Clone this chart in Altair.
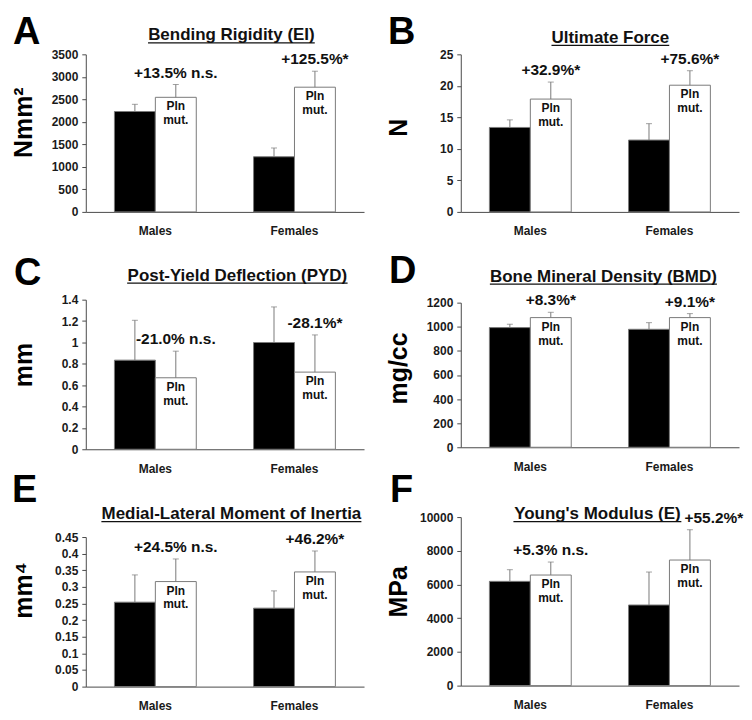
import altair as alt
import pandas as pd

# ---------------- data ----------------
categories = ["Males", "Females"]
groups = ["WT", "Pln mut."]
bar_text = "Pln\nmut."

a_wt = [2230, 1225]
a_wt_sd = [160, 195]
a_mut = [2545, 2770]
a_mut_sd = [285, 355]
a_notes = ["+13.5% n.s.", "+125.5%*"]
a_ticks = [0, 500, 1000, 1500, 2000, 2500, 3000, 3500]

b_wt = [13.4, 11.4]
b_wt_sd = [1.2, 2.6]
b_mut = [17.9, 20.1]
b_mut_sd = [2.7, 2.3]
b_notes = ["+32.9%*", "+75.6%*"]
b_ticks = [0, 5, 10, 15, 20, 25]

c_wt = [0.834, 0.999]
c_wt_sd = [0.373, 0.333]
c_mut = [0.669, 0.722]
c_mut_sd = [0.249, 0.348]
c_notes = ["-21.0% n.s.", "-28.1%*"]
c_ticks = [0, 0.2, 0.4, 0.6, 0.8, 1, 1.2, 1.4]

d_wt = [993, 979]
d_wt_sd = [28, 55]
d_mut = [1076, 1076]
d_mut_sd = [44, 33]
d_notes = ["+8.3%*", "+9.1%*"]
d_ticks = [0, 200, 400, 600, 800, 1000, 1200]

e_wt = [0.254, 0.236]
e_wt_sd = [0.082, 0.052]
e_mut = [0.316, 0.345]
e_mut_sd = [0.068, 0.063]
e_notes = ["+24.5% n.s.", "+46.2%*"]
e_ticks = [0, 0.05, 0.1, 0.15, 0.2, 0.25, 0.3, 0.35, 0.4, 0.45]

f_wt = [6186, 4783]
f_wt_sd = [691, 1956]
f_mut = [6561, 7451]
f_mut_sd = [771, 1798]
f_notes = ["+5.3% n.s.", "+55.2%*"]
f_ticks = [0, 2000, 4000, 6000, 8000, 10000]

# ---------------- style ----------------
FONT = "Liberation Sans"
W = 279
GRAY = "#7a7a7a"
AXIS = "#4a4a4a"
INK = "#111111"
TITLE_SIZE = 17

# Arial/Liberation Sans Bold advance widths (per em) for underline length
CW = {" ": .278, "(": .333, ")": .333, "-": .333, "'": .238, "A": .722, "B": .722,
      "D": .722, "E": .667, "F": .611, "I": .278, "L": .611, "M": .833, "P": .667,
      "R": .722, "U": .722, "Y": .667, "a": .556, "c": .556, "d": .611, "e": .556,
      "f": .333, "g": .611, "h": .611, "i": .278, "l": .278, "m": .889, "n": .611,
      "o": .611, "r": .389, "s": .556, "t": .333, "u": .611, "y": .556}


def text_width(s, size):
    return sum(CW.get(ch, .6) for ch in s) * size


def panel(letter, title, ytitle, wt, wt_sd, mut, mut_sd, notes, ticks, height, off,
          letter_xy, title_xy, ytitle_shift, note_dx=(0, 0)):
    rows = []
    for i, cat in enumerate(categories):
        rows.append(dict(cat=cat, grp=groups[0], value=wt[i], top=wt[i] + wt_sd[i],
                         note="", inner=""))
        rows.append(dict(cat=cat, grp=groups[1], value=mut[i], top=mut[i] + mut_sd[i],
                         note=notes[i], inner=bar_text))
    df = pd.DataFrame(rows)
    dom = [0, ticks[-1]]
    yaxis = alt.Axis(title=ytitle, values=ticks, format=".6~r",
                     titleY=off + (height - off) / 2 - ytitle_shift)

    def Y(field):
        return alt.Y(f"{field}:Q",
                     scale=alt.Scale(domain=dom, nice=False, zero=True,
                                     range=[height, off]),
                     axis=yaxis)

    x = alt.X("cat:N", sort=categories,
              scale=alt.Scale(paddingInner=0, paddingOuter=0),
              axis=alt.Axis(title=None, ticks=False, tickSize=0, labelAngle=0,
                            labelPadding=14))
    xo = alt.XOffset("grp:N", sort=groups,
                     scale=alt.Scale(paddingInner=0, paddingOuter=0.7))
    base = alt.Chart(df).encode(x=x, xOffset=xo)

    bars = base.mark_bar(stroke=GRAY, strokeWidth=1).encode(
        y=Y("value"),
        color=alt.Color("grp:N", scale=alt.Scale(domain=groups,
                                                 range=["#000000", "#ffffff"]),
                        legend=None))
    err = base.mark_rule(color=GRAY, strokeWidth=1).encode(y=Y("value"), y2="top:Q")
    cap = base.mark_tick(color=GRAY, size=6, thickness=1).encode(y=Y("top"))
    mut_only = base.transform_filter(alt.datum.grp == groups[1])
    inner = mut_only.mark_text(baseline="top", dy=4, fontSize=12, fontWeight="bold",
                               font=FONT, lineBreak="\n", lineHeight=14,
                               color=INK).encode(y=Y("value"), text="inner:N")
    layers = [bars, err, cap, inner]
    for i, cat in enumerate(categories):
        layers.append(
            mut_only.transform_filter(alt.datum.cat == cat).mark_text(
                baseline="bottom", dy=-4, dx=note_dx[i], fontSize=15.5,
                fontWeight="bold", font=FONT, color=INK
            ).encode(y=Y("top"), text="note:N"))

    cx, ty = title_xy
    ty += off
    tw = text_width(title, TITLE_SIZE)
    tdf = pd.DataFrame({"t": [title]})
    layers.append(alt.Chart(tdf).mark_text(
        fontSize=TITLE_SIZE, fontWeight="bold", font=FONT, align="center",
        baseline="alphabetic", color=INK).encode(
        x=alt.value(cx), y=alt.value(ty), text="t:N"))
    layers.append(alt.Chart(tdf).mark_rule(color=INK, strokeWidth=1.3).encode(
        x=alt.value(cx - tw / 2), x2=alt.value(cx + tw / 2), y=alt.value(ty + 2.5)))
    ldf = pd.DataFrame({"t": [letter]})
    layers.append(alt.Chart(ldf).mark_text(
        fontSize=38, fontWeight="bold", font=FONT, align="left", baseline="top",
        color="#000000").encode(
        x=alt.value(letter_xy[0]), y=alt.value(letter_xy[1] + off), text="t:N"))
    return alt.layer(*layers).properties(width=W, height=height)


pA = panel("A", "Bending Rigidity (EI)", "Nmm²", a_wt, a_wt_sd, a_mut, a_mut_sd,
           a_notes, a_ticks, 158, 0, (-73, -40.5), (146, -14), 11)
pB = panel("B", "Ultimate Force", "N", b_wt, b_wt_sd, b_mut, b_mut_sd,
           b_notes, b_ticks, 158, 0, (-73, -40.5), (150, -11.5), 6)
pC = panel("C", "Post-Yield Deflection (PYD)", "mm", c_wt, c_wt_sd, c_mut, c_mut_sd,
           c_notes, c_ticks, 170, 20, (-72, -45), (152, -19), 10)
pD = panel("D", "Bone Mineral Density (BMD)", "mg/cc", d_wt, d_wt_sd, d_mut, d_mut_sd,
           d_notes, d_ticks, 168, 23, (-72, -50), (143, -21), 7)
pE = panel("E", "Medial-Lateral Moment of Inertia", "mm⁴", e_wt, e_wt_sd, e_mut,
           e_mut_sd, e_notes, e_ticks, 170, 20, (-74, -65), (146, -18), 22)
pF = panel("F", "Young's Modulus (E)", "MPa", f_wt, f_wt_sd, f_mut, f_mut_sd,
           f_notes, f_ticks, 169, 0, (-71, -45), (137, 2), 10, note_dx=(0, 24))

chart = alt.concat(
    pA, pB, pC, pD, pE, pF, columns=2, bounds="flush", align="each",
    spacing={"row": 68, "column": 97}
).properties(
    padding={"left": 4, "top": 4.5, "right": 0, "bottom": 0}
).configure_view(stroke=None).configure_axis(
    grid=False, domainColor=AXIS, tickColor=AXIS, labelFont=FONT,
    labelFontWeight="bold", labelFontSize=12, labelColor="#1a1a1a",
    titleFont=FONT, titleFontWeight="bold", titleColor="#000000"
).configure_axisY(
    tickSize=4, labelPadding=4, minExtent=36, maxExtent=36, titleFontSize=25,
    titlePadding=13
)

chart.save("out.html", embed_options={"renderer": "svg", "actions": False})
